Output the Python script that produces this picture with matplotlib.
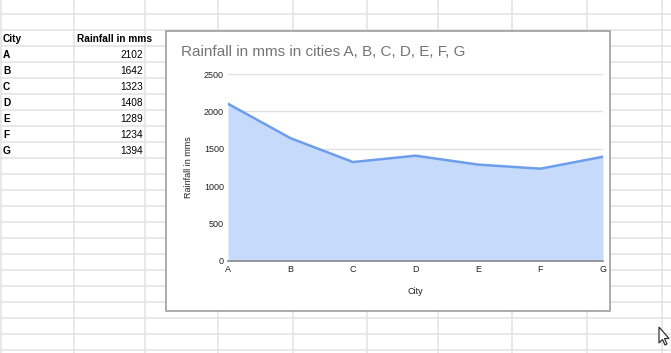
import matplotlib.pyplot as plt
from matplotlib.patches import Rectangle, Polygon

plt.rcParams['font.family'] = ['Liberation Sans', 'DejaVu Sans']

cities = ['A', 'B', 'C', 'D', 'E', 'F', 'G']
rainfall = [2102, 1642, 1323, 1408, 1289, 1234, 1394]
yticks = [0, 500, 1000, 1500, 2000, 2500]

W, H = 671, 353
fig = plt.figure(figsize=(W / 100, H / 100), dpi=100)

# spreadsheet background in pixel coordinates
bg = fig.add_axes([0, 0, 1, 1])
bg.set_xlim(0, W)
bg.set_ylim(H, 0)
bg.axis('off')

grid_c = '#e2e2e2'
col_x = [0.5, 74, 145, 218, 293, 367, 438, 512, 587, 662]
for x in col_x:
    bg.plot([x, x], [0, H], color=grid_c, lw=1.1, zorder=1)
for y in range(14, H + 1, 16):
    bg.plot([0, W], [y, y], color=grid_c, lw=1.1, zorder=1)

# table
bg.text(3, 39.5, 'City', fontsize=7.3, fontweight='bold', va='center', ha='left')
bg.text(77, 39.5, 'Rainfall in mms', fontsize=7.3, fontweight='bold', va='center', ha='left')
for i, (c, r) in enumerate(zip(cities, rainfall)):
    yc = 55.5 + 16 * i
    bg.text(3, yc, c, fontsize=7.3, fontweight='bold', va='center', ha='left')
    bg.text(143, yc, str(r), fontsize=7.3, va='center', ha='right')

# chart frame
bg.add_patch(Rectangle((166, 31), 444, 280, facecolor='white',
                       edgecolor='#9e9e9e', lw=1.2, zorder=3))
bg.text(181, 52.5, 'Rainfall in mms in cities A, B, C, D, E, F, G',
        fontsize=11, color='#757575', va='center', ha='left', zorder=4)

# mouse cursor
bg.add_patch(Polygon([(659, 327), (659, 343), (662.5, 339.5), (665, 345),
                      (667, 344), (664.5, 338.5), (669, 338.5)], closed=True,
                     facecolor='white', edgecolor='#333333', lw=0.9, zorder=5))

# plot area
x0, x1, ytop, ybot = 228, 603, 74, 261
ax = fig.add_axes([x0 / W, 1 - ybot / H, (x1 - x0) / W, (ybot - ytop) / H])
ax.set_zorder(4)
ax.patch.set_alpha(0)
xs = range(len(cities))
ax.fill_between(xs, rainfall, 0, color='#c6dafc', lw=0, zorder=2)
ax.plot(xs, rainfall, color='#6d9eeb', lw=1.8, zorder=3)
ax.set_xlim(0, len(cities) - 1)
ax.set_ylim(0, 2500)
ax.set_yticks(yticks)
ax.set_xticks(list(xs))
ax.set_xticklabels(cities)
ax.tick_params(length=0, labelsize=6.5, colors='#222222', pad=3)
ax.grid(axis='y', color='#e0e0e0', lw=1, zorder=1)
for s in ['top', 'right', 'left']:
    ax.spines[s].set_visible(False)
ax.spines['bottom'].set_color('#8a8a8a')
ax.spines['bottom'].set_linewidth(1.2)
ax.spines['bottom'].set_zorder(4)
ax.set_xlabel('City', fontsize=6.5, color='#222222', labelpad=9)
ax.set_ylabel('Rainfall in mms', fontsize=6.5, color='#222222', labelpad=8)

fig.savefig('out.png', dpi=100)
